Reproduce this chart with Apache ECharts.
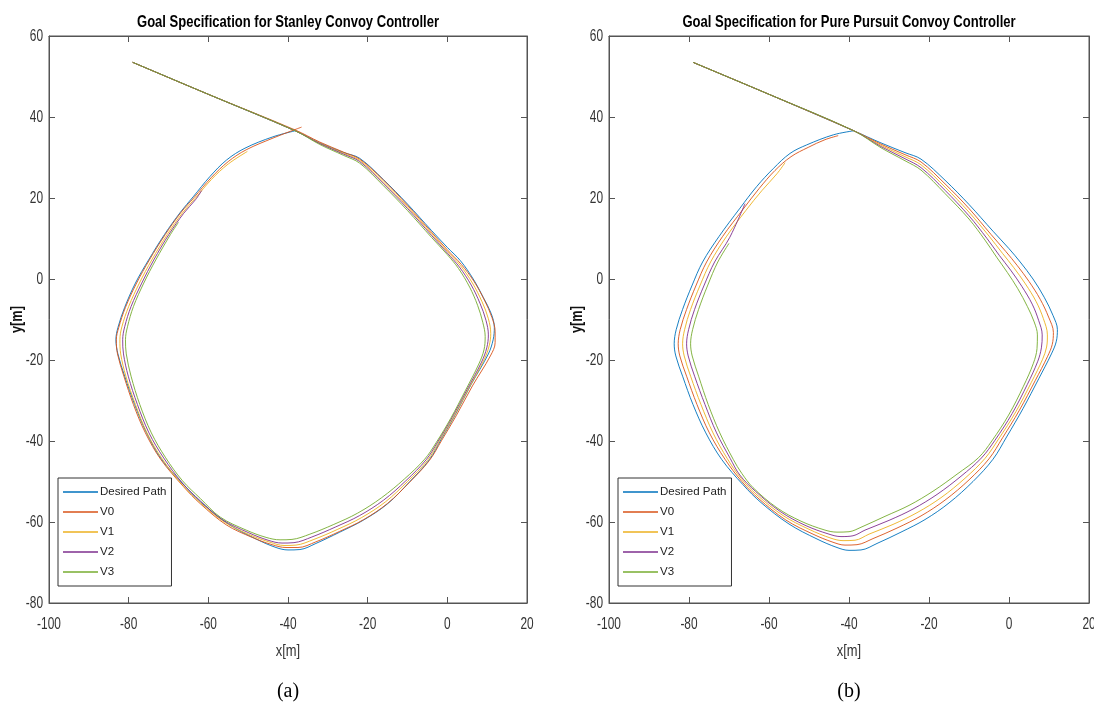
<!DOCTYPE html>
<html>
<head>
<meta charset="utf-8">
<script src="https://cdn.jsdelivr.net/npm/echarts@6/dist/echarts.min.js"></script>
<style>
  html, body { margin: 0; padding: 0; background: #fff; overflow: hidden; }
  #chart { width: 1094px; height: 703px; }
</style>
</head>
<body>
<div id="chart"></div>
<script>
// Axis ticks shared by both panels
const xTicks = [-100, -80, -60, -40, -20, 0, 20];
const yTicks = [-80, -60, -40, -20, 0, 20, 40, 60];
const seriesNames = ['Desired Path', 'V0', 'V1', 'V2', 'V3'];
const panelTitles = ['Goal Specification for Stanley Convoy Controller',
                     'Goal Specification for Pure Pursuit Convoy Controller'];
const panelTags = ['(a)', '(b)'];
const xName = 'x[m]';
const yName = 'y[m]';

// ---- Stanley controller trajectories [x, y] in metres ----
const stanleyDesired = [[-79,53.5],[-60,45.6],[-38.2,36.6],[-32,33.6],[-26,31.2],[-22,29.8],[-16,24.5],[-10,18.5],[-4,12],[0,7.8],[3.3,4.5],[6.5,0],[9,-4.5],[11,-8.5],[11.8,-12],[11.5,-15],[10.3,-18.5],[6,-26],[2,-33.5],[-1.5,-39.5],[-4.5,-44.6],[-9.4,-50],[-15,-55.5],[-21,-59.5],[-27,-62.5],[-33,-65.3],[-37,-66.8],[-40,-66.9],[-43,-66.3],[-48,-64.2],[-55,-60.5],[-62,-55],[-66,-51],[-71.7,-44.6],[-75.5,-38],[-78.5,-31],[-81,-24],[-82.7,-18.5],[-83.2,-15],[-82.7,-12],[-81,-7],[-78.3,-1],[-75,4.7],[-71,11],[-67,16.5],[-63.8,20.3],[-59.6,25.3],[-55.4,29.4],[-50.8,32.3],[-43.8,35.1],[-38.2,36.6]];
const stanleyV0 = [[-79,53.5],[-60,45.6],[-38.2,36.8],[-32,33.8],[-26,31.3],[-22,29.6],[-16,24.4],[-10,18.2],[-4,11.6],[0,7.2],[3.5,3.6],[6.7,-0.6],[9.3,-5.2],[11.2,-9.5],[12,-13],[12,-15.7],[10.8,-19],[6.3,-26.4],[2.2,-33.8],[-1.4,-39.8],[-4.5,-44.8],[-9.5,-50.2],[-15,-55.4],[-21,-59.4],[-27,-62.3],[-33,-64.9],[-37.5,-66.3],[-40.5,-66.3],[-44,-65.6],[-49,-63.8],[-55.5,-60.7],[-62,-55.5],[-66.3,-51.2],[-71.9,-44.6],[-75.8,-38],[-78.8,-31],[-81.2,-24],[-82.8,-18.5],[-83.1,-15],[-82.5,-12],[-80.8,-7],[-78,-1],[-74.8,4.7],[-70.8,11],[-66.9,16.4],[-63.6,20.1],[-59.3,25],[-55,29],[-50.5,31.9],[-43.5,34.9],[-38.5,36.8],[-36.6,37.5]];
const stanleyV1 = [[-79,53.5],[-60,45.6],[-38.2,36.6],[-32,33.5],[-26,31],[-22,29.3],[-16,23.9],[-10,17.8],[-4,11.2],[0,6.8],[3.2,3.4],[6.3,-1],[8.7,-5.6],[10.3,-9.8],[10.9,-13.5],[10.5,-16.5],[9.3,-19.8],[5.5,-26.8],[1.6,-34],[-2,-40],[-5,-44.8],[-10,-50],[-15.5,-55],[-21.5,-58.9],[-27.5,-61.8],[-33.5,-64.3],[-38,-65.7],[-41,-65.8],[-44.5,-65],[-49.5,-63.2],[-56,-60],[-62,-55.2],[-66.5,-50.8],[-71.6,-44.4],[-75.4,-38],[-78.3,-31],[-80.7,-24],[-82,-18.5],[-82.2,-15],[-81.7,-11.8],[-80,-6.8],[-77.3,-1],[-74.2,4.7],[-70.3,11],[-66.5,16.3],[-63.3,19.9],[-59.2,24.6],[-55,28.4],[-50.2,31.5]];
const stanleyV2 = [[-79,53.5],[-60,45.6],[-38.2,36.6],[-32,33.4],[-26,30.8],[-22,29],[-16,23.5],[-10,17.4],[-4,10.8],[0,6.4],[3,3],[6,-1.5],[8.2,-6],[9.7,-10.2],[10.3,-13.8],[9.9,-17],[8.6,-20.5],[5,-27.2],[1.2,-34.2],[-2.4,-40.2],[-5.3,-44.6],[-10.4,-49.8],[-16,-54.6],[-22,-58.4],[-28,-61.2],[-34,-63.7],[-38.5,-65.1],[-41.5,-65.2],[-45,-64.5],[-50,-62.6],[-56.5,-59.4],[-62,-54.8],[-66.5,-50.4],[-71.2,-44.2],[-74.9,-38],[-77.8,-31],[-80.1,-24],[-81.3,-18.5],[-81.5,-15],[-81,-11.8],[-79.4,-6.8],[-76.7,-1],[-73.7,4.7],[-69.9,11],[-66.2,16.2],[-63.2,19.6],[-61.7,21.8]];
const stanleyV3 = [[-79,53.5],[-60,45.6],[-38.2,36.6],[-32,33.2],[-26,30.5],[-22,28.6],[-16,23],[-10,16.9],[-4,10.3],[0,6],[2.8,2.6],[5.6,-2],[7.6,-6.5],[8.9,-10.7],[9.5,-14.2],[9.2,-17.5],[7.9,-21],[4.5,-27.6],[0.8,-34.5],[-2.8,-40.4],[-5.7,-44.5],[-10.8,-49.4],[-16.5,-54],[-22.5,-57.8],[-28.5,-60.6],[-34.5,-63],[-39,-64.3],[-42,-64.4],[-45.5,-63.8],[-50.5,-62],[-57,-58.8],[-62,-54.2],[-66.5,-49.8],[-70.8,-44],[-74.3,-38],[-77.2,-31],[-79.4,-24],[-80.6,-18.5],[-80.8,-15],[-80.3,-11.8],[-78.8,-6.8],[-76.2,-1],[-73.2,4.7],[-69.5,11],[-67.5,14]];

// ---- Pure Pursuit controller trajectories [x, y] in metres ----
const pursuitDesired = [[-79,53.5],[-60,45.6],[-38.8,36.6],[-32,33.6],[-26,31.2],[-22,29.6],[-16,24.4],[-10,18.4],[-4,11.8],[0,7.5],[2.8,4.2],[6,0],[8.8,-4.5],[11,-9],[12.1,-12.5],[11.8,-15.5],[10.6,-18.5],[7.5,-24.5],[3.5,-32],[-0.6,-39],[-4,-44.5],[-9,-50],[-15,-55.3],[-21,-59.4],[-27,-62.5],[-33,-65.3],[-37,-66.9],[-40,-67],[-43,-66.3],[-48,-64.2],[-55,-60.5],[-62,-55.2],[-66.5,-50.8],[-71.8,-44.6],[-75.8,-38],[-79,-31],[-81.6,-24],[-83.3,-19],[-83.7,-16],[-83.2,-12.5],[-81.6,-7.5],[-79.2,-1.5],[-76.6,4.2],[-72.5,10.5],[-67.25,17.5],[-63.1,22.8],[-58.9,27.3],[-54.75,31],[-50.6,33.1],[-43.9,35.6],[-38.8,36.6]];
const pursuitV0 = [[-79,53.5],[-60,45.6],[-38.8,36.6],[-32,33.3],[-26,30.7],[-22,28.9],[-16,23.5],[-10,17.4],[-4.5,11],[-0.8,6.8],[2,3.4],[5,-0.6],[7.8,-5],[9.9,-9.4],[11.1,-13.2],[10.8,-16.2],[9.6,-19.2],[6.6,-25],[2.6,-32.4],[-1.6,-39.2],[-5,-44.4],[-10,-49.6],[-16,-54.6],[-22,-58.5],[-28,-61.5],[-34,-64.1],[-38,-65.6],[-41,-65.7],[-44,-65],[-49,-63],[-55.8,-59.5],[-62.5,-54.3],[-66.8,-50],[-71,-44.5],[-74.9,-38],[-78,-31],[-80.6,-24],[-82.3,-19],[-82.7,-16],[-82.2,-12.5],[-80.6,-7.5],[-78.2,-1.5],[-75.6,4.2],[-71.6,10.5],[-66.5,17.2],[-62.5,22.3],[-58.5,26.8],[-54.5,30.2],[-50.2,32.5],[-46,34.4],[-42.7,35.4]];
const pursuitV1 = [[-79,53.5],[-60,45.6],[-38.8,36.6],[-32,33],[-26,30.2],[-22,28.2],[-16,22.7],[-10,16.5],[-5,10.6],[-1.6,6.3],[1.2,2.8],[4.1,-1.2],[6.8,-5.6],[8.6,-9.8],[9.6,-13.8],[9.4,-16.8],[8.4,-19.8],[5.6,-25.5],[1.7,-32.8],[-2.6,-39.5],[-6,-44.3],[-11,-49.2],[-17,-54],[-23,-57.7],[-29,-60.6],[-35,-63],[-38.5,-64.5],[-41.5,-64.6],[-44.5,-64],[-50,-61.8],[-56.5,-58.4],[-63,-53.3],[-67,-49.2],[-70.4,-44.4],[-74,-38],[-77,-31],[-79.6,-24],[-81.2,-19],[-81.6,-16],[-81.1,-12.5],[-79.6,-7.5],[-77.2,-1.5],[-74.6,4.2],[-70.7,10.4],[-65.8,16.9],[-61.8,21.8],[-58,26],[-56,28.7]];
const pursuitV2 = [[-79,53.5],[-60,45.6],[-38.8,36.6],[-32,32.7],[-26,29.7],[-22,27.5],[-16,21.9],[-10,15.6],[-5.5,10],[-2.4,5.8],[0.4,2.2],[3.2,-1.8],[5.8,-6.2],[7.4,-10.2],[8.3,-13.8],[8.1,-17],[7.2,-20.3],[4.6,-26],[0.8,-33.2],[-3.5,-39.8],[-6.9,-44.2],[-12,-48.7],[-18,-53.2],[-24,-56.8],[-30,-59.6],[-36,-62],[-39,-63.4],[-42,-63.6],[-45,-63],[-51,-60.8],[-57.2,-57.4],[-63.4,-52.4],[-67.3,-48.4],[-69.7,-44.3],[-73.1,-38],[-76,-31],[-78.6,-24],[-80.2,-19],[-80.6,-16],[-80.1,-12.5],[-78.6,-7.5],[-76.2,-1.5],[-73.6,4.2],[-69.8,10.3],[-66,18.6]];
const pursuitV3 = [[-79,53.5],[-60,45.6],[-38.8,36.6],[-32,32.4],[-26,29.2],[-22,26.9],[-16,21.1],[-10,14.8],[-6,9.6],[-3.1,5.4],[-0.4,1.6],[2.2,-2.4],[4.6,-6.8],[6.3,-10.6],[7.1,-13.8],[7,-17.2],[6.1,-20.8],[3.6,-26.5],[-0.1,-33.6],[-4.3,-40],[-7.6,-44.1],[-13,-48.2],[-19,-52.4],[-25,-55.9],[-31,-58.6],[-37,-61.3],[-40,-62.4],[-43,-62.5],[-46,-62],[-52,-59.8],[-58,-56.5],[-64,-51.5],[-66.8,-48],[-68.9,-44.6],[-72.3,-38],[-75.2,-31],[-77.6,-24],[-79.2,-19],[-79.6,-16],[-79.1,-12.5],[-77.6,-7.5],[-75.3,-1.5],[-72.8,4.2],[-70,8.8]];

const stanleyRuns = [stanleyDesired, stanleyV0, stanleyV1, stanleyV2, stanleyV3];
const pursuitRuns = [pursuitDesired, pursuitV0, pursuitV1, pursuitV2, pursuitV3];

const lineColors = ['#0072BD', '#D95319', '#EDB120', '#7E2F8E', '#77AC30'];
const sans = '"Liberation Sans", Arial, sans-serif';
const axisGray = '#555';
const labelGray = '#333';
// Arial-Narrow-like look: regular sans glyphs squeezed horizontally
const squeeze = 0.8;

const panels = [
  { left: 49, top: 36, width: 478, height: 567, runs: stanleyRuns },
  { left: 609, top: 36, width: 480, height: 567, runs: pursuitRuns }
];

const grids = [], xAxes = [], yAxes = [], series = [], legends = [];

panels.forEach((p, i) => {
  grids.push({ left: p.left, top: p.top, width: p.width, height: p.height,
               show: true, borderColor: axisGray, borderWidth: 1, backgroundColor: '#fff' });
  const common = {
    gridIndex: i, type: 'value', interval: 20,
    axisLine: { show: true, onZero: false, lineStyle: { color: axisGray, width: 1 } },
    axisTick: { show: true, inside: true, length: 6, lineStyle: { color: axisGray } },
    axisLabel: { show: false },
    splitLine: { show: false }
  };
  const xr = { min: xTicks[0], max: xTicks[xTicks.length - 1] };
  const yr = { min: yTicks[0], max: yTicks[yTicks.length - 1] };
  xAxes.push(Object.assign({}, common, xr, { position: 'bottom' }));
  xAxes.push(Object.assign({}, common, xr, { position: 'top' }));
  yAxes.push(Object.assign({}, common, yr, { position: 'left' }));
  yAxes.push(Object.assign({}, common, yr, { position: 'right' }));

  p.runs.forEach((run, k) => {
    series.push({
      name: seriesNames[k], type: 'line', xAxisIndex: i * 2, yAxisIndex: i * 2,
      data: run, showSymbol: false, smooth: 0.35, z: 2 + k,
      lineStyle: { width: 1, color: lineColors[k], opacity: 0.9 }, itemStyle: { color: lineColors[k] }
    });
  });

  legends.push({
    show: true, orient: 'vertical', left: p.left + 9, top: 478,
    data: seriesNames, icon: 'rect', itemWidth: 35, itemHeight: 1.5, itemGap: 6,
    padding: [7, 5, 7, 5], borderColor: '#333', borderWidth: 1, borderRadius: 0,
    backgroundColor: '#fff', selectedMode: false,
    textStyle: { fontSize: 11.5, color: '#222', fontFamily: sans, lineHeight: 14, padding: [0, 0, 0, -3] }
  });
});

const chart = echarts.init(document.getElementById('chart'), null, { renderer: 'canvas' });
chart.setOption({
  animation: false,
  backgroundColor: '#fff',
  grid: grids, xAxis: xAxes, yAxis: yAxes, series: series, legend: legends
});

// Text layer: tick labels, axis names, titles and panel tags, placed with the axis scales
const texts = [];
function addText(str, x, y, font, opts) {
  texts.push(Object.assign({
    type: 'text', x: x, y: y, scaleX: squeeze, z: 50,
    style: { text: str, x: 0, y: 0, textAlign: 'center', textVerticalAlign: 'middle',
             font: font, fill: labelGray }
  }, opts || {}));
  return texts[texts.length - 1];
}
panels.forEach((p, i) => {
  const bottom = p.top + p.height;
  xTicks.forEach(v => {
    const px = chart.convertToPixel({ xAxisIndex: i * 2 }, v);
    addText(String(v), px, bottom + 21, '16.5px ' + sans, { scaleX: 0.72 });
  });
  yTicks.forEach(v => {
    const py = chart.convertToPixel({ yAxisIndex: i * 2 }, v);
    const t = addText(String(v), p.left - 6, py, '16.5px ' + sans, { scaleX: 0.72 });
    t.style.textAlign = 'right';
  });
  const cx = p.left + p.width / 2;
  const cy = p.top + p.height / 2;
  addText(xName, cx, bottom + 48, '17px ' + sans, { scaleX: 0.76 });
  const yl = addText(yName, p.left - 31, cy, 'bold 16px ' + sans, { rotation: Math.PI / 2 });
  yl.style.fill = '#111';
  const tt = addText(panelTitles[i], cx, 22, 'bold 16.5px ' + sans, { scaleX: 0.79 });
  tt.style.fill = '#000';
  const tg = addText(panelTags[i], cx, 692, '20px "Liberation Serif", "Times New Roman", serif', { scaleX: 1 });
  tg.style.fill = '#000';
});
chart.setOption({ graphic: texts });
</script>
</body>
</html>
